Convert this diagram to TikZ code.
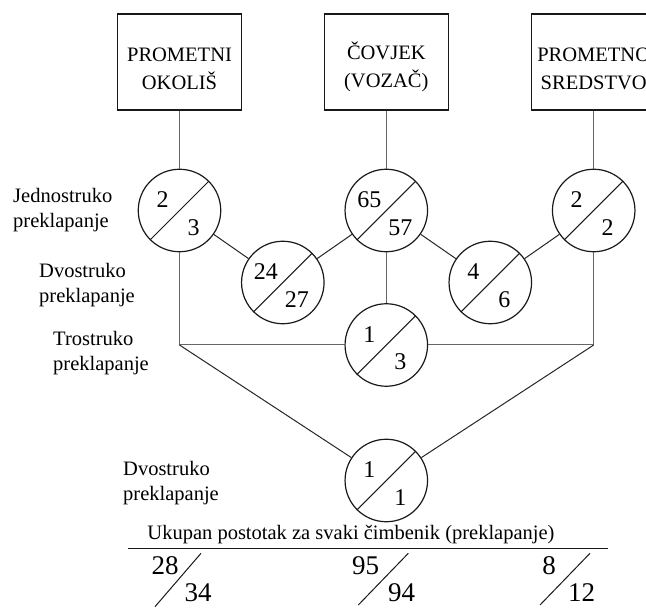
\documentclass[tikz,border=0pt]{standalone}
\usepackage{fontspec}
\setmainfont{Liberation Serif}
\newcommand\omjer[4]{%
  \node[krug] (#1) at (#2) {};
  \draw[kosa] (#1.225) -- (#1.45);
  \node[broj] (#1-g) at ([shift={(-17,-10.5)}]#1) {#3};
  \node[broj] (#1-d) at ([shift={(14,17)}]#1) {#4};
}
\begin{document}
\begin{tikzpicture}[x=1pt,y=-1pt,
    every node/.style={font=\fontsize{20.5}{25}\selectfont},
    kutija/.style={draw=black!90,line width=1.2pt,minimum width=124pt,minimum height=96pt},
    natpis/.style={align=center,inner sep=0pt},
    krug/.style={circle,draw=black!90,line width=1.2pt,minimum size=82.5pt,inner sep=0pt},
    kosa/.style={black!90,line width=1pt},
    broj/.style={font=\fontsize{24}{28}\selectfont,inner sep=0pt},
    veza/.style={black!60,line width=1pt},
    dijagonala/.style={black!85,line width=1pt},
    opis/.style={align=left,anchor=west,inner sep=0pt},
    zbroj/.style={font=\fontsize{27}{30}\selectfont,anchor=base,inner sep=0pt}]
    \useasboundingbox (0,0) rectangle (646,609);
    \clip (0,0) rectangle (646,609);
    \node[kutija] (okolis) at (179.5,62) {};
    \node[natpis] (okolis-t) at (179.5,69) {PROMETNI\\[3pt]OKOLIŠ};
    \node[kutija] (covjek) at (386.3,62) {};
    \node[natpis] (covjek-t) at (386.3,67) {ČOVJEK\\[3pt](VOZAČ)};
    \node[kutija] (sredstvo) at (593.7,62) {};
    \node[natpis] (sredstvo-t) at (593.7,69) {PROMETNO\\[3pt]SREDSTVO};
    \omjer{okolis1}{179.5,210.5}{2}{3}
    \omjer{covjek1}{386.3,210.5}{65}{57}
    \omjer{sredstvo1}{593.7,210.5}{2}{2}
    \omjer{okcov}{282.8,282.5}{24}{27}
    \omjer{covsre}{490.3,282.5}{4}{6}
    \omjer{trostruko}{386.3,345}{1}{3}
    \omjer{oksre}{386.3,480.5}{1}{1}
    \coordinate (lijevo) at (179.5,345);
    \coordinate (desno) at (593.7,345);
    \draw[veza] (okolis) -- (okolis1);
    \draw[veza] (covjek) -- (covjek1);
    \draw[veza] (sredstvo) -- (sredstvo1);
    \draw[dijagonala] (okolis1) -- (okcov) -- (covjek1) -- (covsre) -- (sredstvo1);
    \draw[veza] (covjek1) -- (trostruko);
    \draw[veza] (okolis1) -- (lijevo) -- (trostruko) -- (desno) -- (sredstvo1);
    \draw[dijagonala] (lijevo) -- (oksre) -- (desno);
    \node[opis] (jedno) at (13,210) {Jednostruko\\preklapanje};
    \node[opis] (dvo) at (39,285) {Dvostruko\\preklapanje};
    \node[opis] (tro) at (53,353) {Trostruko\\preklapanje};
    \node[opis] (dvo2) at (123,483) {Dvostruko\\preklapanje};
    \node[anchor=base,inner sep=0pt] (ukupno) at (351,540) {Ukupan postotak za svaki čimbenik (preklapanje)};
    \draw[kosa] (128,548.3) -- (608,548.3);
    \node[zbroj] (o-g) at (165,575) {28};
    \node[zbroj] (o-d) at (198,601.5) {34};
    \draw[kosa] (155,606.7) -- (201,553.3);
    \node[zbroj] (c-g) at (365.5,575) {95};
    \node[zbroj] (c-d) at (401.7,601.5) {94};
    \draw[kosa] (358.3,605) -- (408.3,553.3);
    \node[zbroj] (s-g) at (549,575) {8};
    \node[zbroj] (s-d) at (581.7,601.5) {12};
    \draw[kosa] (540,605) -- (590,553.3);
  \end{tikzpicture}
\end{document}
